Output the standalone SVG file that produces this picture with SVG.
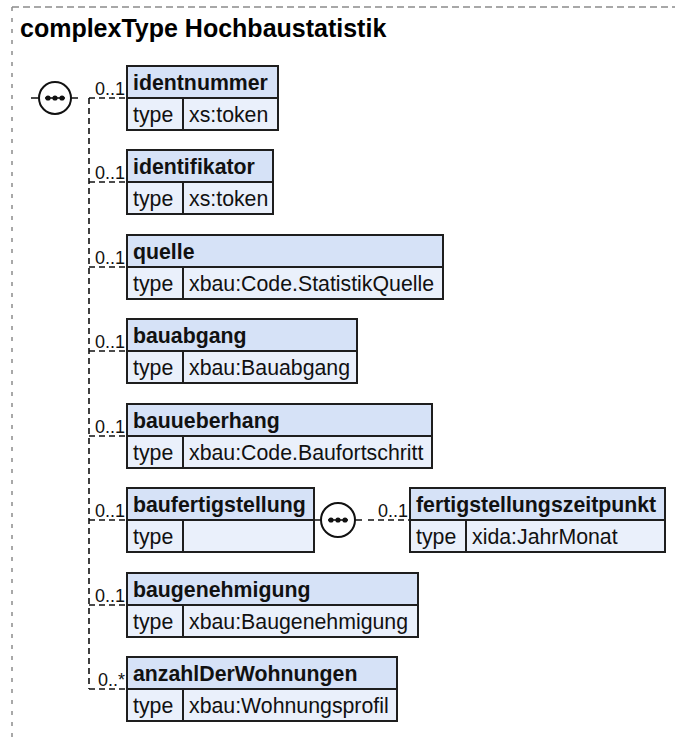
<svg xmlns="http://www.w3.org/2000/svg" width="675" height="742" viewBox="0 0 675 742">
<style>
.frame{fill:none;stroke:#8c8c8c;stroke-width:1.5}
.title{font-family:"Liberation Sans",Arial,sans-serif;font-weight:bold;font-size:25px;fill:#000}
.hd{fill:#d6e2f7;stroke:#1e1e1e;stroke-width:2}
.rw{fill:#eaf0fb;stroke:#1e1e1e;stroke-width:2}
.dv{stroke:#1e1e1e;stroke-width:2}
.nm{font-family:"Liberation Sans",Arial,sans-serif;font-weight:bold;font-size:21.3px;fill:#111}
.tx{font-family:"Liberation Sans",Arial,sans-serif;font-size:21.3px;fill:#111}
.card{font-family:"Liberation Sans",Arial,sans-serif;font-size:18px;fill:#111;text-anchor:end}
.dash{fill:none;stroke:#111;stroke-width:1.6;stroke-dasharray:6,4}
.solid{fill:none;stroke:#111;stroke-width:1.6}
.seq{fill:#fff;stroke:#111;stroke-width:2}
.dot{fill:#111}
</style>
<path class="frame" d="M12,7 H675" stroke-dasharray="7,4"/>
<path class="frame" d="M12,7 V742" stroke-dasharray="4,7"/>
<text class="title" x="20" y="37">complexType Hochbaustatistik</text>

<g id="connectors">
  <path class="solid" d="M31,98 H39 M71,98 H78"/>
  <path class="dash" d="M89,98 H127 M89,98 V689"/>
  <path class="dash" d="M89,182 H127 M89,267 H127 M89,351 H127 M89,436 H127 M89,520 H127 M89,605 H127 M89,689 H127"/>
  <path class="solid" d="M314,520 H321 M355,520 H362"/>
  <path class="dash" d="M368,520 H410"/>
  <text class="card" x="125" y="95">0..1</text>
  <text class="card" x="125" y="179">0..1</text>
  <text class="card" x="125" y="264">0..1</text>
  <text class="card" x="125" y="348">0..1</text>
  <text class="card" x="125" y="433">0..1</text>
  <text class="card" x="125" y="517">0..1</text>
  <text class="card" x="125" y="602">0..1</text>
  <text class="card" x="125" y="686">0..*</text>
  <text class="card" x="408" y="517">0..1</text>
</g>

<g id="seq1">
  <circle class="seq" cx="55" cy="98" r="16"/>
  <path class="solid" d="M45,98 H65"/>
  <circle class="dot" cx="48" cy="98" r="2.6"/><circle class="dot" cx="55" cy="98" r="2.6"/><circle class="dot" cx="62" cy="98" r="2.6"/>
</g>
<g id="seq2">
  <circle class="seq" cx="338" cy="520" r="17"/>
  <path class="solid" d="M328,520 H348"/>
  <circle class="dot" cx="331" cy="520" r="2.6"/><circle class="dot" cx="338" cy="520" r="2.6"/><circle class="dot" cx="345" cy="520" r="2.6"/>
</g>

<g id="identnummer">
  <rect class="hd" x="127" y="66" width="151" height="32"/>
  <rect class="rw" x="127" y="98" width="151" height="32"/>
  <line class="dv" x1="183" y1="98" x2="183" y2="130"/>
  <text class="nm" x="133" y="90">identnummer</text>
  <text class="tx" x="133" y="122">type</text>
  <text class="tx" x="189" y="122">xs:token</text>
</g>
<g id="identifikator">
  <rect class="hd" x="127" y="150" width="146" height="32"/>
  <rect class="rw" x="127" y="182" width="146" height="32"/>
  <line class="dv" x1="183" y1="182" x2="183" y2="214"/>
  <text class="nm" x="133" y="174">identifikator</text>
  <text class="tx" x="133" y="206">type</text>
  <text class="tx" x="189" y="206">xs:token</text>
</g>
<g id="quelle">
  <rect class="hd" x="127" y="235" width="316" height="32"/>
  <rect class="rw" x="127" y="267" width="316" height="32"/>
  <line class="dv" x1="183" y1="267" x2="183" y2="299"/>
  <text class="nm" x="133" y="259">quelle</text>
  <text class="tx" x="133" y="291">type</text>
  <text class="tx" x="189" y="291">xbau:Code.StatistikQuelle</text>
</g>
<g id="bauabgang">
  <rect class="hd" x="127" y="319" width="230" height="32"/>
  <rect class="rw" x="127" y="351" width="230" height="32"/>
  <line class="dv" x1="183" y1="351" x2="183" y2="383"/>
  <text class="nm" x="133" y="343">bauabgang</text>
  <text class="tx" x="133" y="375">type</text>
  <text class="tx" x="189" y="375">xbau:Bauabgang</text>
</g>
<g id="bauueberhang">
  <rect class="hd" x="127" y="404" width="305" height="32"/>
  <rect class="rw" x="127" y="436" width="305" height="32"/>
  <line class="dv" x1="183" y1="436" x2="183" y2="468"/>
  <text class="nm" x="133" y="428">bauueberhang</text>
  <text class="tx" x="133" y="460">type</text>
  <text class="tx" x="189" y="460">xbau:Code.Baufortschritt</text>
</g>
<g id="baufertigstellung">
  <rect class="hd" x="127" y="488" width="187" height="32"/>
  <rect class="rw" x="127" y="520" width="187" height="32"/>
  <line class="dv" x1="183" y1="520" x2="183" y2="552"/>
  <text class="nm" x="133" y="512">baufertigstellung</text>
  <text class="tx" x="133" y="544">type</text>
</g>
<g id="fertigstellungszeitpunkt">
  <rect class="hd" x="410" y="488" width="255" height="32"/>
  <rect class="rw" x="410" y="520" width="255" height="32"/>
  <line class="dv" x1="466" y1="520" x2="466" y2="552"/>
  <text class="nm" x="416" y="512">fertigstellungszeitpunkt</text>
  <text class="tx" x="416" y="544">type</text>
  <text class="tx" x="472" y="544">xida:JahrMonat</text>
</g>
<g id="baugenehmigung">
  <rect class="hd" x="127" y="573" width="291" height="32"/>
  <rect class="rw" x="127" y="605" width="291" height="32"/>
  <line class="dv" x1="183" y1="605" x2="183" y2="637"/>
  <text class="nm" x="133" y="597">baugenehmigung</text>
  <text class="tx" x="133" y="629">type</text>
  <text class="tx" x="189" y="629">xbau:Baugenehmigung</text>
</g>
<g id="anzahlDerWohnungen">
  <rect class="hd" x="127" y="657" width="270" height="32"/>
  <rect class="rw" x="127" y="689" width="270" height="32"/>
  <line class="dv" x1="183" y1="689" x2="183" y2="721"/>
  <text class="nm" x="133" y="681">anzahlDerWohnungen</text>
  <text class="tx" x="133" y="713">type</text>
  <text class="tx" x="189" y="713">xbau:Wohnungsprofil</text>
</g>
</svg>
